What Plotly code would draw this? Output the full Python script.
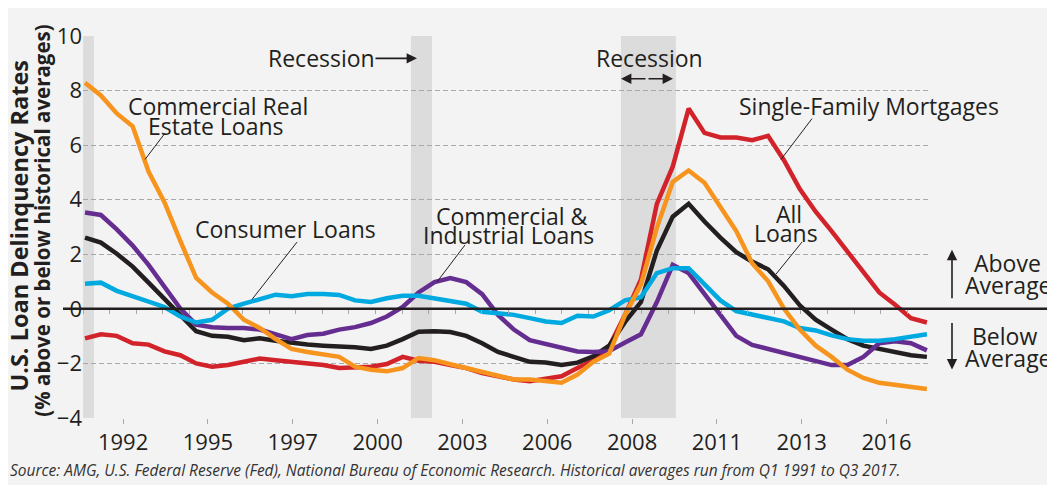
import plotly.graph_objects as go

# Half-year observation points (Q1 1991 .. Q3 2017)
years = [1991.0, 1991.5, 1992.0, 1992.5, 1993.0, 1993.5, 1994.0, 1994.5, 1995.0, 1995.5,
         1996.0, 1996.5, 1997.0, 1997.5, 1998.0, 1998.5, 1999.0, 1999.5, 2000.0, 2000.5,
         2001.0, 2001.5, 2002.0, 2002.5, 2003.0, 2003.5, 2004.0, 2004.5, 2005.0, 2005.5,
         2006.0, 2006.5, 2007.0, 2007.5, 2008.0, 2008.5, 2009.0, 2009.5, 2010.0, 2010.5,
         2011.0, 2011.5, 2012.0, 2012.5, 2013.0, 2013.5, 2014.0, 2014.5, 2015.0, 2015.5,
         2016.0, 2016.5, 2017.0, 2017.5]

commercial_real_estate = [8.29, 7.82, 7.16, 6.69, 5.03, 3.91, 2.49, 1.13, 0.60, 0.19,
                          -0.40, -0.70, -1.11, -1.47, -1.58, -1.68, -1.76, -2.12, -2.23, -2.29,
                          -2.17, -1.80, -1.88, -2.03, -2.17, -2.35, -2.47, -2.59, -2.59, -2.65,
                          -2.71, -2.41, -1.94, -1.64, -0.22, 0.90, 2.97, 4.65, 5.07, 4.62,
                          3.74, 2.85, 1.67, 1.02, 0.01, -0.76, -1.35, -1.76, -2.23, -2.53,
                          -2.71, -2.80, -2.88, -2.94]

commercial_industrial = [3.53, 3.44, 2.91, 2.32, 1.61, 0.84, 0.01, -0.58, -0.67, -0.70,
                         -0.70, -0.76, -0.93, -1.11, -0.96, -0.91, -0.76, -0.67, -0.52, -0.28,
                         0.07, 0.60, 0.98, 1.13, 0.98, 0.54, -0.22, -0.76, -1.15, -1.29,
                         -1.43, -1.56, -1.58, -1.55, -1.23, -0.93, 0.25, 1.61, 1.31, 0.54,
                         -0.28, -0.99, -1.32, -1.47, -1.62, -1.76, -1.88, -2.06, -2.06, -1.76,
                         -1.26, -1.19, -1.26, -1.52]

all_loans = [2.61, 2.43, 2.02, 1.55, 0.96, 0.37, -0.22, -0.82, -0.99, -1.02,
             -1.15, -1.08, -1.17, -1.26, -1.31, -1.35, -1.37, -1.41, -1.47, -1.35,
             -1.11, -0.84, -0.82, -0.85, -0.99, -1.26, -1.58, -1.78, -1.94, -1.97,
             -2.06, -1.97, -1.74, -1.35, -0.48, 0.25, 2.14, 3.38, 3.85, 3.20,
             2.61, 2.08, 1.73, 1.45, 0.84, 0.13, -0.40, -0.76, -1.11, -1.35,
             -1.47, -1.61, -1.70, -1.76]

consumer = [0.92, 0.96, 0.66, 0.46, 0.25, 0.07, -0.28, -0.50, -0.40, 0.01,
            0.19, 0.37, 0.52, 0.46, 0.54, 0.54, 0.51, 0.31, 0.25, 0.39,
            0.48, 0.48, 0.37, 0.27, 0.19, -0.11, -0.17, -0.22, -0.34, -0.46,
            -0.52, -0.25, -0.28, -0.05, 0.31, 0.43, 1.31, 1.49, 1.49, 0.90,
            0.31, -0.08, -0.20, -0.32, -0.46, -0.70, -0.79, -0.97, -1.11, -1.17,
            -1.17, -1.11, -1.03, -0.93]

single_family = [-1.08, -0.93, -0.99, -1.26, -1.31, -1.56, -1.70, -2.00, -2.12, -2.06,
                 -1.94, -1.82, -1.88, -1.94, -2.00, -2.06, -2.17, -2.14, -2.12, -2.02,
                 -1.76, -1.90, -1.94, -2.06, -2.17, -2.35, -2.49, -2.59, -2.65, -2.57,
                 -2.47, -2.17, -1.88, -1.38, -0.22, 1.08, 3.85, 5.21, 7.34, 6.45,
                 6.28, 6.28, 6.18, 6.34, 5.45, 4.39, 3.56, 2.85, 2.08, 1.31,
                 0.60, 0.15, -0.34, -0.50]

recession_start = [1990.94, 2001.26, 2007.87]
recession_end = [1991.28, 2001.92, 2009.60]

tick_labels = ['1992', '1995', '1997', '2000', '2003', '2006', '2008', '2011', '2013', '2016']

# ---- layout constants (pixel positions as seen in the page) ----
W, H = 1055, 485
OFF = 8                                 # default body margin of the html page
L, R, T, B = 83, 928, 25, 418           # plot area
X_RANGE = [1990.937, 2017.535]
Y_RANGE = [-4, 10]
FONT = 'Open Sans'
TXT = '#231f20'
GRID = '#a8a8a8'
LABEL_SIZE = 23


def px(x):
    return (x - L) / (R - L)


def py(y):
    return (B - y) / (B - T)


fig = go.Figure()

series = [
    (single_family, 'Single-Family Mortgages', '#d2232a'),
    (all_loans, 'All Loans', '#231f20'),
    (commercial_industrial, 'Commercial & Industrial Loans', '#662d91'),
    (consumer, 'Consumer Loans', '#00a9e0'),
    (commercial_real_estate, 'Commercial Real Estate Loans', '#f7941d'),
]
for vals, name, color in series:
    fig.add_trace(go.Scatter(
        x=years, y=vals, mode='lines', name=name,
        line=dict(color=color, width=4.5),
        showlegend=False
    ))

# recession shading
for x0, x1 in zip(recession_start, recession_end):
    fig.add_shape(type='rect', xref='x', yref='paper', x0=x0, x1=x1, y0=0, y1=1,
                  fillcolor='#dcdcdc', line=dict(width=0), layer='below')

# zero line running past the plot
fig.add_shape(type='line', xref='paper', yref='y', x0=px(63), x1=px(W), y0=0, y1=0,
              line=dict(color=TXT, width=2.5))

# leader lines
leaders = [((165, 125), (145, 152)), ((297, 237), (252, 296)), ((465, 240), (437, 278)),
           ((812, 110), (781, 152)), ((802, 237), (776, 270))]
for (xa, ya), (xb, yb) in leaders:
    fig.add_shape(type='line', xref='paper', yref='paper',
                  x0=px(xa), y0=py(ya), x1=px(xb), y1=py(yb),
                  line=dict(color=TXT, width=1))

labels = [
    ('Commercial Real', 218, 97), ('Estate Loans', 216, 118),
    ('Consumer Loans', 285, 224),
    ('Recession', 321, 48), ('Recession', 649, 48),
    ('Commercial &', 512, 210), ('Industrial Loans', 508, 230),
    ('Single-Family Mortgages', 869, 97),
    ('All', 789, 208), ('Loans', 786, 228),
    ('Above', 1007, 259), ('Average', 1008, 281),
    ('Below', 1005, 334), ('Average', 1008, 356),
]
for text, x, y in labels:
    fig.add_annotation(text=text, x=px(x), y=py(y), xref='paper', yref='paper',
                       showarrow=False, xanchor='center', yanchor='middle',
                       font=dict(family=FONT, size=LABEL_SIZE, color=TXT))

# arrows: (head x, head y, tail dx, tail dy)
arrows = [(417, 48, -43, 0), (621, 69, 26, 0), (673, 69, -26, 0),
          (952, 245, 0, 50), (952, 368, 0, -48)]
for x, y, dx, dy in arrows:
    fig.add_annotation(text='', x=px(x), y=py(y), xref='paper', yref='paper',
                       showarrow=True, ax=dx, ay=dy, arrowhead=2, arrowsize=1.3,
                       arrowwidth=1.6, arrowcolor=TXT)

# axis title (two lines)
fig.add_annotation(text='<b>U.S. Loan Delinquency Rates</b>', x=px(19), y=py(220),
                   xref='paper', yref='paper', showarrow=False, textangle=-90,
                   xanchor='center', yanchor='middle',
                   font=dict(family=FONT, size=23.5, color=TXT))
fig.add_annotation(text='<b>(% above or below historical averages)</b>', x=px(42), y=py(215),
                   xref='paper', yref='paper', showarrow=False, textangle=-90,
                   xanchor='center', yanchor='middle',
                   font=dict(family=FONT, size=20.5, color=TXT))

# source
fig.add_annotation(text='<i>Source: AMG, U.S. Federal Reserve (Fed), National Bureau of Economic Research. '
                        'Historical averages run from Q1 1991 to Q3 2017.</i>',
                   x=px(8), y=py(472), xref='paper', yref='paper', showarrow=False,
                   xanchor='left', yanchor='middle',
                   font=dict(family=FONT, size=15.5, color='#333333'))

tick_vals = [1992.2 + 2.67 * i for i in range(len(tick_labels))]

# invisible trace so the overlay axis with zero-line ticks renders
fig.add_trace(go.Scatter(x=[X_RANGE[0]], y=[0], xaxis='x2', mode='markers',
                         marker=dict(opacity=0), showlegend=False, hoverinfo='skip'))

fig.update_layout(
    width=W - OFF, height=H - OFF,
    margin=dict(l=L - OFF, r=W - R, t=T - OFF, b=H - B),
    paper_bgcolor='#f3f3f3',
    plot_bgcolor='#f3f3f3',
    font=dict(family=FONT, color=TXT),
    xaxis=dict(range=X_RANGE, tickvals=tick_vals, ticktext=tick_labels,
               showgrid=False, zeroline=False, showline=False,
               ticks='outside', ticklen=5, tickcolor=GRID,
               tickfont=dict(size=22, color=TXT)),
    xaxis2=dict(range=X_RANGE, overlaying='x', anchor='free', position=4 / 14,
                tick0=X_RANGE[0], dtick=0.837, ticks='outside', ticklen=4,
                tickcolor=GRID, showticklabels=False, showgrid=False,
                zeroline=False, showline=False),
    yaxis=dict(range=Y_RANGE, dtick=2, showgrid=True, gridcolor=GRID, gridwidth=1,
               griddash='5px,3px', zeroline=False, showline=False, ticks='',
               tickfont=dict(size=22, color=TXT)),
)

fig.write_html("out.html")
